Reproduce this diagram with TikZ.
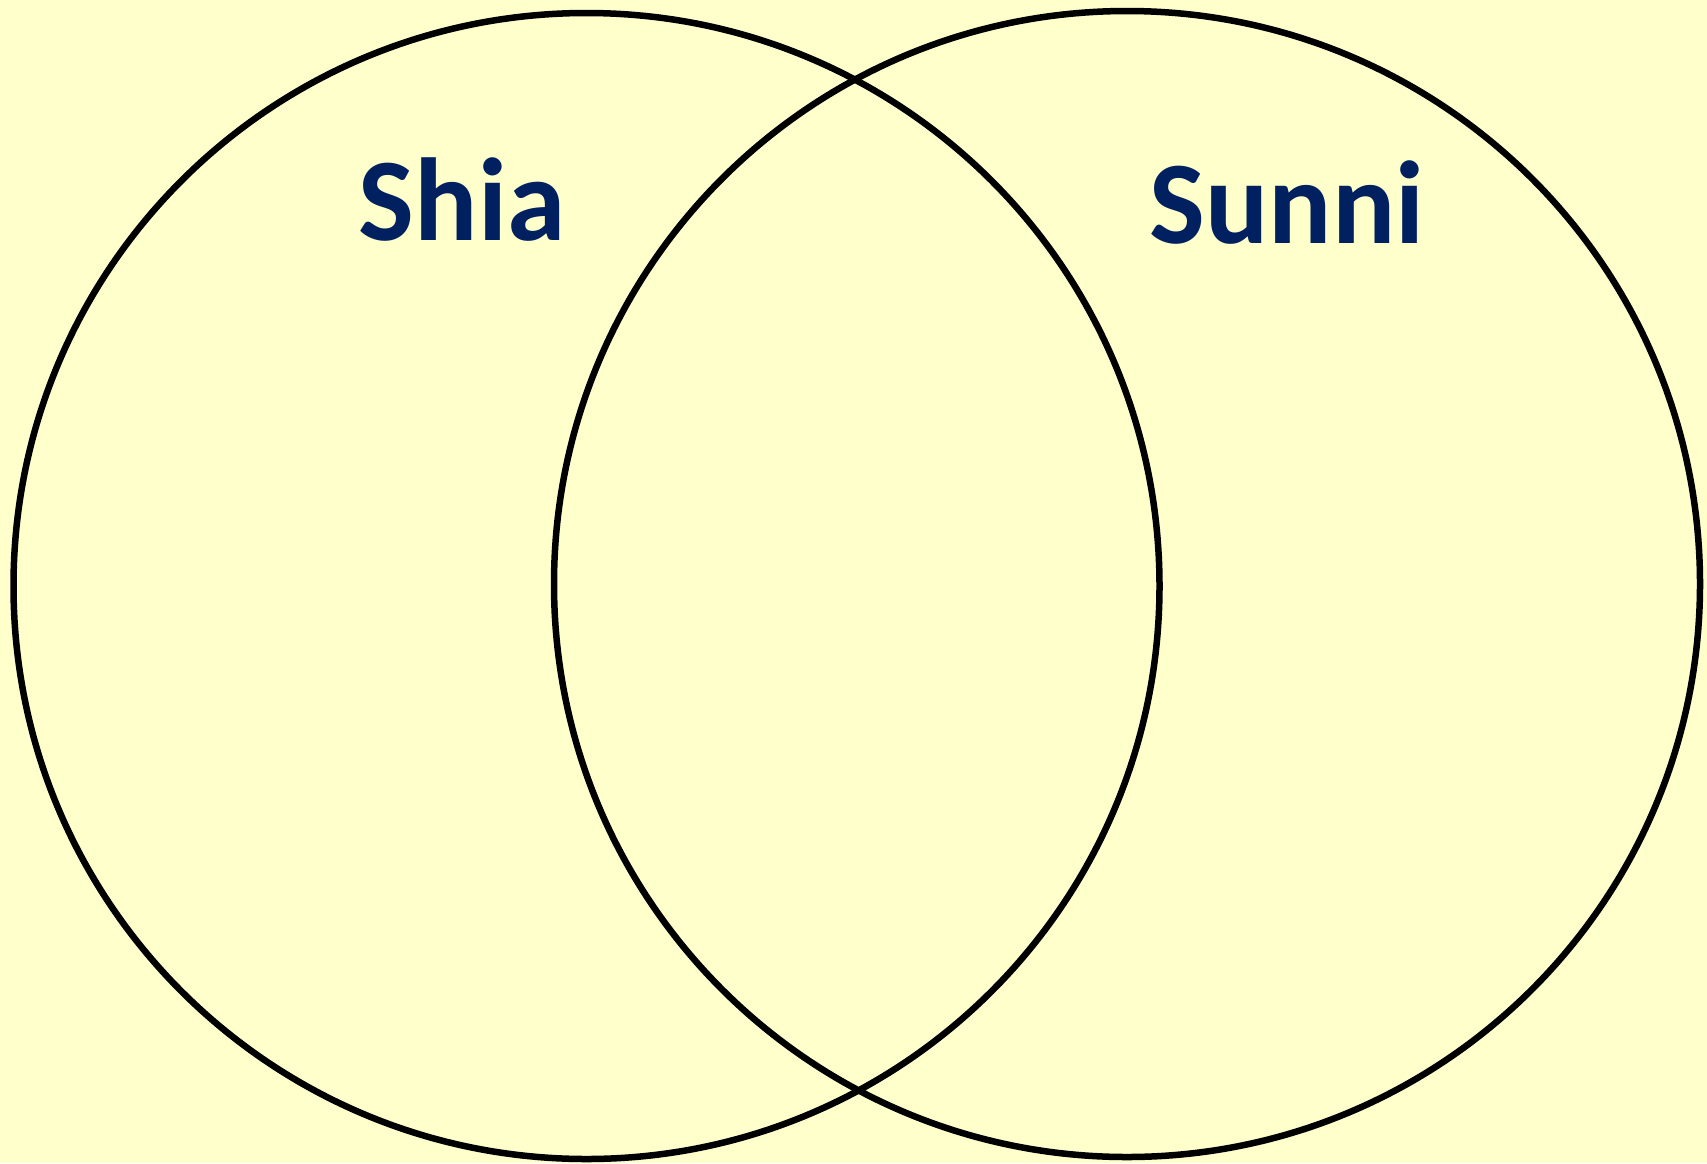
\documentclass[tikz,border=0pt]{standalone}
\usepackage{fontspec}
\setmainfont{Carlito}
\definecolor{bg}{HTML}{FFFFCC}
\definecolor{navy}{HTML}{002060}
\begin{document}
\begin{tikzpicture}[x=1pt,y=-1pt,
  ring/.style={draw=black,line width=6.5pt},
  label/.style={text=navy,font=\bfseries\fontsize{118}{120}\selectfont,inner sep=0pt,anchor=base}]
\fill[bg] (0,0) rectangle (1707,1163);
\useasboundingbox (0,0) rectangle (1707,1163);
\coordinate (cl) at (586.5,586);
\coordinate (cr) at (1127,584);
\draw[ring] (cl) circle[radius=573];
\draw[ring] (cr) circle[radius=573];
\node[label] (shia) at (462,240) {Shia};
\node[label] (sunni) at (1287,243) {Sunni};
\end{tikzpicture}
\end{document}
